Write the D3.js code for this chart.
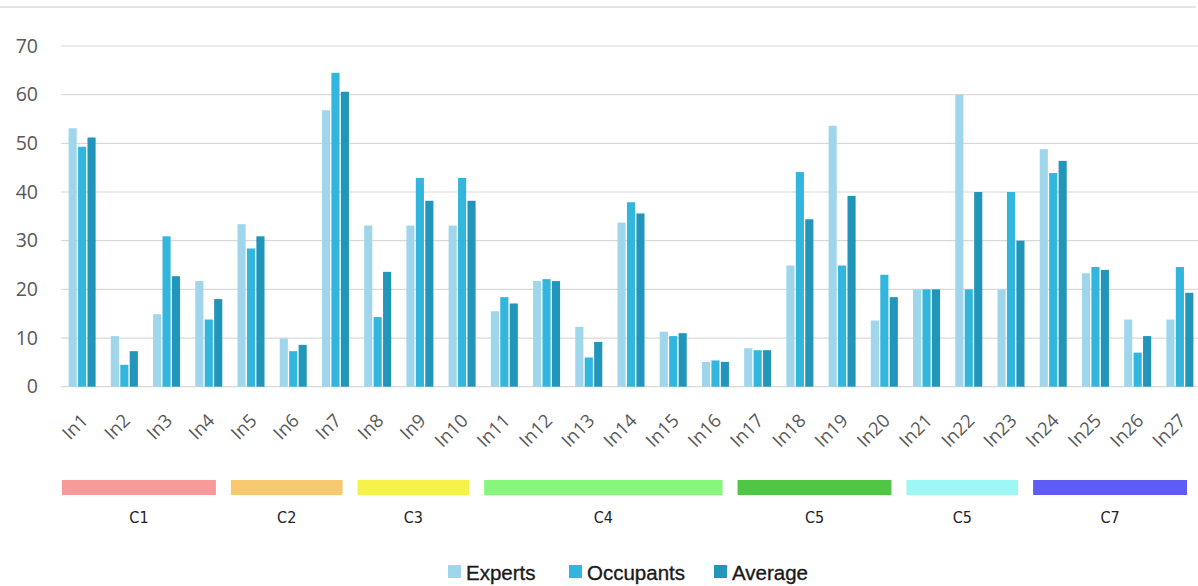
<!DOCTYPE html>
<html>
<head>
<meta charset="utf-8">
<script src="https://cdn.jsdelivr.net/npm/d3@7"></script>
<style>
  html, body { margin: 0; padding: 0; background: #ffffff; }
  svg { display: block; }
</style>
</head>
<body>
<svg id="chart" width="1198" height="586"></svg>
<script>
// Indicator labels
const items = ["In1","In2","In3","In4","In5","In6","In7","In8","In9","In10","In11","In12","In13","In14",
               "In15","In16","In17","In18","In19","In20","In21","In22","In23","In24","In25","In26","In27"];

// Scores per indicator
const experts   = [53.1,10.4,14.9,21.7,33.4, 9.9,56.8,33.1,33.1,33.1,15.5,21.7,12.3,33.7,11.3,5.1,7.9,24.9,53.6,13.6,20,60,20,48.8,23.3,13.8,13.8];
const occupants = [49.3, 4.5,30.9,13.8,28.4, 7.3,64.5,14.3,42.9,42.9,18.4,22.1, 6.0,37.9,10.4,5.4,7.5,44.1,24.9,23.0,20,20,40,43.9,24.6, 7.0,24.6];
const average   = [51.2, 7.3,22.7,18.0,30.9, 8.6,60.6,23.6,38.2,38.2,17.1,21.7, 9.2,35.6,11.0,5.1,7.5,34.4,39.2,18.4,20,40,30,46.4,24.0,10.4,19.3];

const seriesNames = ["Experts", "Occupants", "Average"];
const yTicks = [0, 10, 20, 30, 40, 50, 60, 70];

// Criteria groups spanning indicators
const groupLabels = ["C1", "C2", "C3", "C4", "C5", "C5", "C7"];
const groupFirst  = ["In1", "In5", "In8", "In11", "In17", "In21", "In24"];
const groupLast   = ["In4", "In7", "In10", "In16", "In20", "In23", "In27"];

const seriesColors = ["#9fd6ec", "#33b6dd", "#2196ba"];
const groupColors  = ["#f99a9a", "#f7c86e", "#f6f24a", "#86f77a", "#4fc744", "#9df7f5", "#5f5bf5"];

const svg = d3.select("#chart");

const x = d3.scaleBand().domain(items).range([61, 1201]).padding(0);
const y = d3.scaleLinear().domain([0, 70]).range([386.7, 46]);
const sub = d3.scaleBand().domain(seriesNames).range([0, 27]).paddingInner(0.14);
const subOffset = (x.bandwidth() - 27) / 2;

// top rule
svg.append("line")
  .attr("x1", 0).attr("x2", 1196).attr("y1", 7).attr("y2", 7)
  .attr("stroke", "#dcdcdc").attr("stroke-width", 1.5);

// gridlines
svg.append("g").selectAll("line").data(yTicks).join("line")
  .attr("x1", 61).attr("x2", 1198)
  .attr("y1", d => y(d)).attr("y2", d => y(d))
  .attr("stroke", "#d9d9d9").attr("stroke-width", 1.2);

// y-axis labels
const yAxis = d3.axisLeft(y).tickValues(yTicks).tickSize(0).tickPadding(0);
const yg = svg.append("g").attr("transform", "translate(38,0)").call(yAxis);
yg.select(".domain").remove();
yg.selectAll("text")
  .attr("font-family", "'Open Sans', 'Noto Sans', sans-serif")
  .attr("font-size", 19.5).attr("fill", "#595959");

// bars
const rows = items.map((name, i) => ({
  name, values: [experts[i], occupants[i], average[i]]
}));
const groups = svg.append("g").selectAll("g").data(rows).join("g")
  .attr("transform", d => `translate(${x(d.name) + subOffset},0)`);
groups.selectAll("rect")
  .data(d => d.values.map((v, k) => ({ key: seriesNames[k], v, k })))
  .join("rect")
  .attr("x", d => sub(d.key))
  .attr("width", sub.bandwidth())
  .attr("y", d => y(d.v))
  .attr("height", d => y(0) - y(d.v))
  .attr("fill", d => seriesColors[d.k]);

// x-axis labels, rotated
const xAxis = d3.axisBottom(x).tickSize(0).tickPadding(0);
const xg = svg.append("g").attr("transform", "translate(0,386.7)").call(xAxis);
xg.select(".domain").remove();
xg.selectAll("text")
  .attr("font-family", "'Open Sans', 'Noto Sans', sans-serif")
  .attr("font-size", 18.5).attr("fill", "#595959")
  .attr("text-anchor", "end")
  .attr("dy", null)
  .attr("transform", "translate(7,35) rotate(-45)");

// criteria bands
const cg = svg.append("g");
groupLabels.forEach((lab, i) => {
  const x0 = x(groupFirst[i]) + 1;
  const x1 = x(groupLast[i]) + x.bandwidth() - 14;
  cg.append("rect")
    .attr("x", x0).attr("y", 480).attr("width", x1 - x0).attr("height", 15)
    .attr("fill", groupColors[i]);
  cg.append("text")
    .attr("x", (x0 + x1) / 2).attr("y", 523)
    .attr("text-anchor", "middle")
    .attr("font-family", "'DejaVu Sans Condensed', 'Liberation Sans Narrow', 'Open Sans', sans-serif")
    .attr("font-stretch", "condensed")
    .attr("font-size", 16).attr("fill", "#222")
    .text(lab);
});

// legend
const legendX = [448, 569, 714];
const lg = svg.append("g");
seriesNames.forEach((name, i) => {
  lg.append("rect")
    .attr("x", legendX[i]).attr("y", 565).attr("width", 13).attr("height", 13)
    .attr("fill", seriesColors[i]);
  lg.append("text")
    .attr("x", legendX[i] + 18).attr("y", 580)
    .attr("font-family", "'Liberation Sans', Arial, sans-serif")
    .attr("font-size", 20.5).attr("fill", "#1a1a1a")
    .attr("stroke", "#1a1a1a").attr("stroke-width", 0.35)
    .text(name);
});
</script>
</body>
</html>
